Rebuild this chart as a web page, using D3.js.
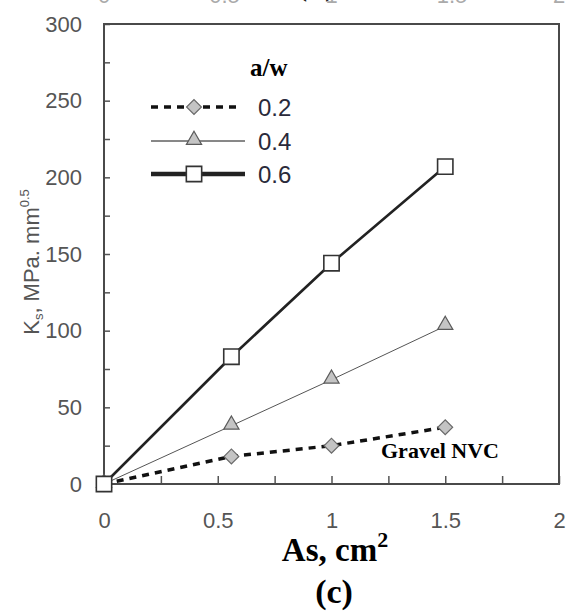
<!DOCTYPE html>
<html>
<head>
<meta charset="utf-8">
<script src="https://cdn.jsdelivr.net/npm/d3@7"></script>
<style>
  html, body { margin: 0; padding: 0; background: #fff; }
  svg { display: block; }
</style>
</head>
<body>
<svg id="chart" width="579" height="613"></svg>
<script>
// Steel area As (cm²) tested for each notch ratio
const areas = [0, 0.56, 1, 1.5];
// Ks values (MPa·mm^0.5) per a/w ratio
const ks02 = [0, 18, 25, 37];
const ks04 = [0, 38, 68, 103];
const ks06 = [0, 83, 144, 207];
const ratioLabels = ["0.2", "0.4", "0.6"];
const xTicks = [0, 0.25, 0.5, 0.75, 1, 1.25, 1.5, 1.75, 2];
const yTicks = [0, 25, 50, 75, 100, 125, 150, 175, 200, 225, 250, 275, 300];
// bottom of the labels of the panel above, cut by the page edge
const abovePanelTicks = ["0", "0.5", "1", "1.5", "2"];
const abovePanelTickPos = [0, 0.53, 1.0, 1.53, 2.0];

const svg = d3.select("#chart");
const plotL = 104, plotR = 559, plotT = 24, plotB = 484;
const x = d3.scaleLinear().domain([0, 2]).range([plotL, plotR]);
const y = d3.scaleLinear().domain([0, 300]).range([plotB, plotT]);

const sans = "'Liberation Sans', Arial, sans-serif";
const serif = "'Liberation Serif', 'Times New Roman', serif";
const tickGray = "#555";

// remnants of the panel above
svg.append("g").selectAll("text").data(abovePanelTicks).join("text")
  .attr("x", (d, i) => x(abovePanelTickPos[i]))
  .attr("y", 3)
  .attr("text-anchor", "middle")
  .attr("font-family", sans).attr("font-size", 22).attr("fill", "#aaa")
  .text(d => d);
svg.append("text").attr("x", 316).attr("y", -5)
  .attr("text-anchor", "middle").attr("font-family", serif)
  .attr("font-weight", "bold").attr("font-size", 32).attr("fill", "#222")
  .text("(b)");

// x axis with inward ticks
const xAxis = d3.axisBottom(x)
  .tickValues(xTicks)
  .tickSize(-8)
  .tickPadding(28)
  .tickFormat(d => (Math.abs(d * 2 - Math.round(d * 2)) < 1e-9) ? String(d) : "");
const gx = svg.append("g").attr("transform", `translate(0,${plotB})`).call(xAxis);
gx.select(".domain").remove();
gx.selectAll(".tick line").attr("stroke", tickGray).attr("stroke-width", 1.5);
gx.selectAll(".tick text").attr("font-family", sans).attr("font-size", 22).attr("fill", tickGray);

// y axis with inward ticks
const yAxis = d3.axisLeft(y)
  .tickValues(yTicks)
  .tickSize(-6)
  .tickPadding(22)
  .tickFormat(d => d % 50 === 0 ? String(d) : "");
const gy = svg.append("g").attr("transform", `translate(${plotL},0)`).call(yAxis);
gy.select(".domain").remove();
gy.selectAll(".tick line").attr("stroke", tickGray).attr("stroke-width", 1.5);
gy.selectAll(".tick text").attr("font-family", sans).attr("font-size", 22).attr("fill", tickGray);

// plot frame
svg.append("rect")
  .attr("x", plotL).attr("y", plotT)
  .attr("width", plotR - plotL).attr("height", plotB - plotT)
  .attr("fill", "none").attr("stroke", "#4a4a4a").attr("stroke-width", 2);

const series = [
  { values: ks02, stroke: "#111", width: 3.5, dash: "7,6", marker: "diamond" },
  { values: ks04, stroke: "#555", width: 1, dash: null, marker: "triangle" },
  { values: ks06, stroke: "#222", width: 2.6, dash: null, marker: "square" }
];

const line = d3.line().x(d => x(d[0])).y(d => y(d[1]));

function drawMarker(g, kind, cx, cy) {
  if (kind === "diamond") {
    g.append("path")
      .attr("d", d3.symbol(d3.symbolSquare, 110)())
      .attr("transform", `translate(${cx},${cy}) rotate(45)`)
      .attr("fill", "#c4c4c4").attr("stroke", "#6a6a6a").attr("stroke-width", 1.2);
  } else if (kind === "triangle") {
    g.append("path")
      .attr("d", d3.symbol(d3.symbolTriangle, 100)())
      .attr("transform", `translate(${cx},${cy - 1})`)
      .attr("fill", "#c4c4c4").attr("stroke", "#5a5a5a").attr("stroke-width", 1.2);
  } else {
    g.append("path")
      .attr("d", d3.symbol(d3.symbolSquare, 235)())
      .attr("transform", `translate(${cx},${cy})`)
      .attr("fill", "#fff").attr("stroke", "#333").attr("stroke-width", 1.6);
  }
}

const gLines = svg.append("g");
series.forEach(s => {
  const pts = areas.map((a, i) => [a, s.values[i]]);
  const p = gLines.append("path").datum(pts)
    .attr("d", line)
    .attr("fill", "none")
    .attr("stroke", s.stroke)
    .attr("stroke-width", s.width);
  if (s.dash) p.attr("stroke-dasharray", s.dash);
});
// markers above all lines
series.forEach(s => {
  const g = svg.append("g");
  areas.forEach((a, i) => drawMarker(g, s.marker, x(a), y(s.values[i])));
});

// legend
const leg = svg.append("g");
leg.append("text").attr("x", 250).attr("y", 76)
  .attr("font-family", serif).attr("font-weight", "bold").attr("font-size", 25)
  .attr("fill", "#000").text("a/w");
const legRows = [107, 141, 174];
series.forEach((s, i) => {
  const ly = legRows[i];
  const l = leg.append("line")
    .attr("x1", 151).attr("x2", i === 0 ? 238 : 245)
    .attr("y1", ly).attr("y2", ly)
    .attr("stroke", s.stroke === "#555" ? "#111" : s.stroke)
    .attr("stroke-width", i === 2 ? 4.5 : s.width);
  if (s.dash) l.attr("stroke-dasharray", s.dash);
  drawMarker(leg, s.marker, 194, ly);
  leg.append("text").attr("x", 258).attr("y", ly)
    .attr("dy", "0.36em")
    .attr("font-family", sans).attr("font-size", 24).attr("fill", "#2a2a3a")
    .text(ratioLabels[i]);
});

// annotation
svg.append("text").attr("x", 381).attr("y", 458)
  .attr("font-family", serif).attr("font-weight", "bold").attr("font-size", 22)
  .attr("fill", "#000").text("Gravel NVC");

// y axis title
const yt = svg.append("text")
  .attr("transform", `translate(39,262) rotate(-90)`)
  .attr("text-anchor", "middle")
  .attr("font-family", sans).attr("font-size", 22).attr("fill", "#555");
yt.append("tspan").text("K");
yt.append("tspan").attr("font-size", 13).attr("dy", 4).text("s");
yt.append("tspan").attr("dy", -4).text(", MPa. mm");
yt.append("tspan").attr("font-size", 13).attr("dy", -10).text("0.5");

// x axis title
const xt = svg.append("text").attr("x", 335).attr("y", 561)
  .attr("text-anchor", "middle")
  .attr("font-family", serif).attr("font-weight", "bold").attr("font-size", 33)
  .attr("fill", "#000");
xt.append("tspan").text("As, cm");
xt.append("tspan").attr("font-size", 22).attr("dy", -14).text("2");

svg.append("text").attr("x", 334).attr("y", 603)
  .attr("text-anchor", "middle")
  .attr("font-family", serif).attr("font-weight", "bold").attr("font-size", 34)
  .attr("fill", "#000").text("(c)");
</script>
</body>
</html>
